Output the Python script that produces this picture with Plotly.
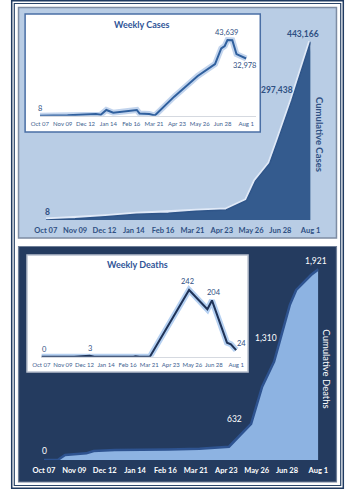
import plotly.graph_objects as go

W, H = 354, 489

# ---------------- data ----------------
tick_dates = ['2020-10-07', '2020-11-09', '2020-12-12', '2021-01-14', '2021-02-16',
              '2021-03-21', '2021-04-23', '2021-05-26', '2021-06-28', '2021-08-01']
tick_labels = ['Oct 07', 'Nov 09', 'Dec 12', 'Jan 14', 'Feb 16',
               'Mar 21', 'Apr 23', 'May 26', 'Jun 28', 'Aug 1']

cum_case_dates = ['2020-10-07', '2020-11-09', '2020-12-13', '2021-01-17', '2021-02-22',
                  '2021-03-25', '2021-04-28', '2021-05-21', '2021-05-31', '2021-06-16',
                  '2021-06-25', '2021-07-11', '2021-08-01']
cum_cases = [8, 3000, 8250, 14000, 16500, 21500, 24800, 48700, 96600, 140300,
             195600, 297438, 443166]

wk_case_dates = ['2020-10-07', '2020-11-16', '2020-12-27', '2021-01-03', '2021-01-11',
                 '2021-01-21', '2021-02-24', '2021-02-28', '2021-03-14', '2021-03-22',
                 '2021-04-19', '2021-05-23', '2021-06-17', '2021-06-26', '2021-07-01',
                 '2021-07-05', '2021-07-12', '2021-07-18', '2021-08-01']
wk_cases = [8, 200, 1000, 600, 3300, 1700, 3300, 1300, 1000, 100,
            11000, 22900, 29800, 38800, 40200, 43639, 43500, 35500, 32978]

cum_death_dates = ['2020-10-07', '2020-10-22', '2020-10-30', '2020-11-22', '2020-11-30',
                   '2020-12-23', '2021-02-19', '2021-03-25', '2021-04-26', '2021-05-20',
                   '2021-06-01', '2021-06-14', '2021-07-01', '2021-07-08', '2021-07-24',
                   '2021-08-01']
cum_deaths = [0, 0, 50, 67, 91, 101, 107, 114, 134, 363, 739, 991, 1561, 1713, 1864, 1921]

wk_death_dates = ['2020-10-07', '2020-11-26', '2020-12-20', '2020-12-27', '2021-02-25',
                  '2021-02-28', '2021-03-06', '2021-03-22', '2021-05-21', '2021-06-18',
                  '2021-06-25', '2021-07-18', '2021-07-24', '2021-08-01']
wk_deaths = [0, 0, 3, 0, 0, 2, 0, 0, 242, 172, 204, 51, 45, 24]

FONT = 'Lato'
C_DARK = '#2f5083'
NAVY = '#243b5f'


def px(x):
    return x / W


def py(y):
    return 1 - y / H


fig = go.Figure()

# top main: cumulative cases
fig.add_trace(go.Scatter(x=cum_case_dates, y=cum_cases, mode='lines',
                         line=dict(color='rgba(228,236,248,0.9)', width=5),
                         xaxis='x', yaxis='y', hoverinfo='skip'))
fig.add_trace(go.Scatter(x=cum_case_dates, y=cum_cases, mode='lines', fill='tozeroy',
                         fillcolor='#345b8e', line=dict(color='#2f5589', width=1.5),
                         xaxis='x', yaxis='y'))
# top inset: weekly cases
fig.add_trace(go.Scatter(x=wk_case_dates, y=wk_cases, mode='lines',
                         line=dict(color='rgba(120,160,215,0.45)', width=6),
                         xaxis='x2', yaxis='y2', hoverinfo='skip'))
fig.add_trace(go.Scatter(x=wk_case_dates, y=wk_cases, mode='lines',
                         line=dict(color='#30609e', width=2),
                         xaxis='x2', yaxis='y2'))
# bottom main: cumulative deaths
fig.add_trace(go.Scatter(x=cum_death_dates, y=cum_deaths, mode='lines', fill='tozeroy',
                         fillcolor='#8db3e2', line=dict(color='#2e5390', width=2.5),
                         xaxis='x3', yaxis='y3'))
# bottom inset: weekly deaths
fig.add_trace(go.Scatter(x=wk_death_dates, y=wk_deaths, mode='lines',
                         line=dict(color='rgba(90,150,225,0.45)', width=6),
                         xaxis='x4', yaxis='y4', hoverinfo='skip'))
fig.add_trace(go.Scatter(x=wk_death_dates, y=wk_deaths, mode='lines',
                         line=dict(color='#1f3358', width=2),
                         xaxis='x4', yaxis='y4'))


def xax(dom, rng, color, size, weight, anchor, showline=False, tl=2):
    return dict(domain=dom, range=rng, type='date', anchor=anchor,
                tickvals=tick_dates, ticktext=tick_labels, tickangle=0,
                tickfont=dict(family=FONT, size=size, color=color, weight=weight),
                ticks='outside', ticklen=tl, tickcolor='rgba(0,0,0,0)',
                showgrid=False, zeroline=False, showline=showline,
                linecolor='#d5d9e0', linewidth=1, fixedrange=True)


def yax(dom, rng, anchor):
    return dict(domain=dom, range=rng, anchor=anchor, visible=False,
                showgrid=False, zeroline=False, fixedrange=True)


layout = dict(
    width=W, height=H, autosize=False,
    margin=dict(l=0, r=0, t=0, b=0),
    paper_bgcolor='white', plot_bgcolor='rgba(0,0,0,0)',
    showlegend=False,
    xaxis=xax([px(37), px(318.5)], ['2020-10-07', '2021-08-01'], C_DARK, 7.5, 'bold', 'y', tl=3),
    yaxis=yax([py(220), py(26.9)], [0, 480000], 'x'),
    xaxis2=xax([px(30.7), px(260.3)], ['2020-10-07', '2021-08-15'], '#40618f', 6, 'normal', 'y2', True),
    yaxis2=yax([py(115.7), py(29)], [0, 50000], 'x2'),
    xaxis3=xax([px(35), px(326.7)], ['2020-10-07', '2021-08-01'], 'white', 7.5, 'bold', 'y3', tl=3),
    yaxis3=yax([py(460), py(261.5)], [0, 2000], 'x3'),
    xaxis4=xax([px(32.3), px(244.9)], ['2020-10-07', '2021-08-09'], '#40618f', 6, 'normal', 'y4', True),
    yaxis4=yax([py(356.7), py(279.5)], [0, 280], 'x4'),
)


def rect(x0, y0, x1, y1, fill='rgba(0,0,0,0)', line='rgba(0,0,0,0)', lw=0):
    return dict(type='rect', xref='paper', yref='paper', layer='below',
                x0=px(x0), x1=px(x1), y0=py(y1), y1=py(y0),
                fillcolor=fill, line=dict(color=line, width=lw))


layout['shapes'] = [
    rect(0.75, 0.75, 353.25, 488.25, line='#1f3a60', lw=1.5),
    rect(3.5, 3.5, 350.5, 485.5, line='#2a4568', lw=1.2),
    rect(8, 7.5, 346, 238, fill='#b9cde5', line='#7d8ca3', lw=1.5),
    rect(8, 246.5, 346, 482, fill=NAVY, line='#6f7f98', lw=1.2),
    rect(15, 14, 265, 132, fill='white', line='#4a6fa5', lw=1.5),
    rect(17, 255, 252, 372, fill='white', line='#b8c0ce', lw=1.5),
]


def ann(text, x, y, color, size, weight='normal', angle=0):
    return dict(text=text, x=px(x), y=py(y), xref='paper', yref='paper',
                showarrow=False, xanchor='center', yanchor='middle', textangle=angle,
                font=dict(family=FONT, size=size, color=color, weight=weight))


layout['annotations'] = [
    ann('Weekly Cases', 139, 24, '#2f5597', 9, 'bold'),
    ann('8', 30.7, 108.3, C_DARK, 7.5),
    ann('43,639', 229.3, 32.3, C_DARK, 7.5),
    ann('32,978', 248.3, 65, C_DARK, 7.5),
    ann('8', 39.3, 211.7, C_DARK, 8.5, 'bold'),
    ann('297,438', 282.7, 90.3, C_DARK, 8.5, 'bold'),
    ann('443,166', 310.7, 34, C_DARK, 8.5, 'bold'),
    ann('Cumulative Cases', 328.5, 134, C_DARK, 9.5, 'bold', 90),
    ann('Weekly Deaths', 134.3, 264.3, '#2f5597', 9, 'bold'),
    ann('0', 36, 349.3, C_DARK, 7.5),
    ann('3', 84.3, 348.3, C_DARK, 7.5),
    ann('242', 187.3, 281.7, C_DARK, 7.5),
    ann('204', 215.7, 292.3, C_DARK, 7.5),
    ann('24', 245, 343.3, C_DARK, 7.5),
    ann('0', 35.7, 450.7, 'white', 8.5),
    ann('632', 237.7, 419, 'white', 8.5),
    ann('1,310', 270.7, 337.7, 'white', 8.5),
    ann('1,921', 324, 260.7, 'white', 8.5),
    ann('Cumulative Deaths', 335, 368.5, 'white', 9.5, 'normal', 90),
]

fig.update_layout(**layout)
fig.write_html('out.html')
